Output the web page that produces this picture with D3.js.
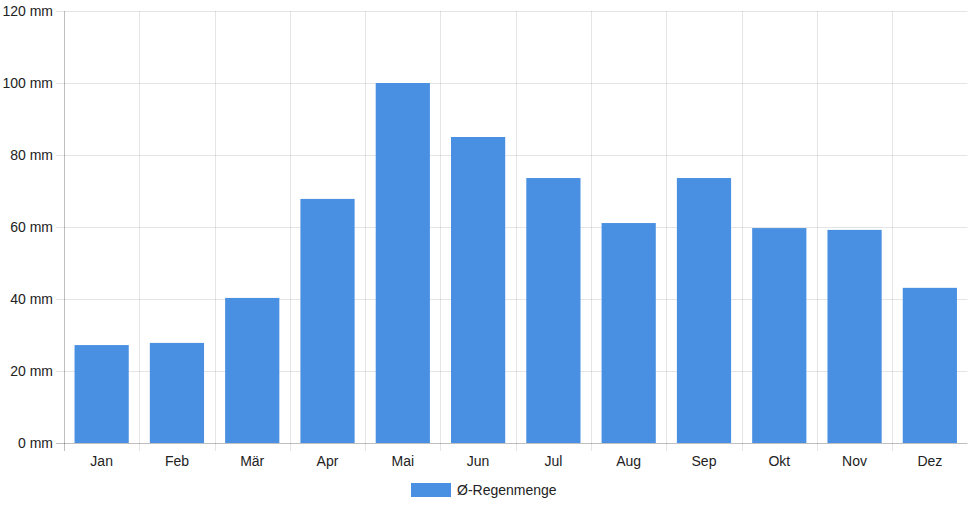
<!DOCTYPE html>
<html>
<head>
<meta charset="utf-8">
<script src="https://cdn.jsdelivr.net/npm/d3@7"></script>
<style>
  body { margin: 0; background: #fff; }
  svg text { font-family: "Liberation Sans", Helvetica, Arial, sans-serif; font-size: 14px; fill: #222; }
</style>
</head>
<body>
<div id="chart"></div>
<script>
// monthly average rainfall
const months = ["Jan", "Feb", "Mär", "Apr", "Mai", "Jun", "Jul", "Aug", "Sep", "Okt", "Nov", "Dez"];
const rain = [27.2, 27.8, 40.3, 67.8, 100, 85, 73.6, 61.1, 73.6, 59.7, 59.2, 43.1];
const yTicks = [0, 20, 40, 60, 80, 100, 120];
const seriesName = "Ø-Regenmenge";

var width = 968,
  height = 508,
  plotLeft = 64,
  plotRight = 967.5,
  plotTop = 11,
  plotBottom = 443;

var svg = d3.select("#chart")
  .append("svg")
  .attr("width", width)
  .attr("height", height);

var x = d3.scaleBand()
  .domain(months)
  .range([plotLeft, plotRight]);

var y = d3.scaleLinear()
  .domain([0, 120])
  .range([plotBottom, plotTop]);

// grid
svg.append("g")
  .selectAll("line")
  .data(yTicks)
  .enter()
  .append("line")
  .attr("x1", plotLeft - 8)
  .attr("x2", plotRight)
  .attr("y1", d => Math.round(y(d)) + 0.5)
  .attr("y2", d => Math.round(y(d)) + 0.5)
  .style("stroke", d => d === 0 ? "rgba(0,0,0,0.25)" : "rgba(0,0,0,0.1)");

var bounds = months.map(m => x(m)).concat([plotRight]);
svg.append("g")
  .selectAll("line")
  .data(bounds)
  .enter()
  .append("line")
  .attr("x1", d => Math.round(d) + 0.5)
  .attr("x2", d => Math.round(d) + 0.5)
  .attr("y1", plotTop)
  .attr("y2", plotBottom + 8)
  .style("stroke", (d, i) => i === 0 ? "rgba(0,0,0,0.25)" : "rgba(0,0,0,0.1)");

// y labels
svg.append("g")
  .selectAll("text")
  .data(yTicks)
  .enter()
  .append("text")
  .attr("x", plotLeft - 11)
  .attr("y", d => y(d))
  .attr("dy", "0.35em")
  .attr("text-anchor", "end")
  .text(d => d + " mm");

// x labels
svg.append("g")
  .selectAll("text")
  .data(months)
  .enter()
  .append("text")
  .attr("x", d => x(d) + x.bandwidth() / 2)
  .attr("y", 466)
  .attr("text-anchor", "middle")
  .text(d => d);

// bars: 0.8 category * 0.9 bar
var barW = x.bandwidth() * 0.72;
svg.append("g")
  .selectAll("rect")
  .data(rain)
  .enter()
  .append("rect")
  .style("fill", "#4a90e2")
  .attr("x", (d, i) => x(months[i]) + (x.bandwidth() - barW) / 2)
  .attr("width", barW)
  .attr("y", d => y(d))
  .attr("height", d => plotBottom - y(d));

// legend
var legend = svg.append("g").attr("transform", "translate(411, 483)");
legend.append("rect")
  .attr("width", 40)
  .attr("height", 14)
  .style("fill", "#4a90e2");
legend.append("text")
  .attr("x", 46)
  .attr("y", 7)
  .attr("dy", "0.35em")
  .text(seriesName);
</script>
</body>
</html>
